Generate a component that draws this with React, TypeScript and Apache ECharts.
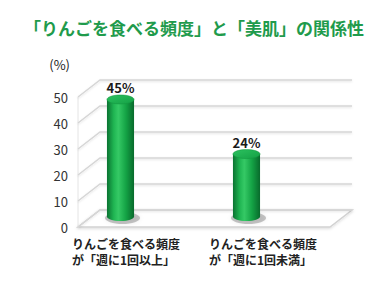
import React, { useEffect, useRef } from "react";
import * as echarts from "echarts";

const titleText = "「りんごを食べる頻度」と「美肌」の関係性";
const categories = ["りんごを食べる頻度\nが「週に1回以上」", "りんごを食べる頻度\nが「週に1回未満」"];
const values = [45, 24];
const yTicks = [0, 10, 20, 30, 40, 50];
const yUnit = "(%)";

const FONT = '"Noto Sans CJK JP", "Noto Sans", sans-serif';
const DX = 22;
const DY = 17;
const BAR_DEPTH = 0.62;

export default function App() {
  const ref = useRef<HTMLDivElement>(null);
  useEffect(() => {
    if (!ref.current) return;
    const chart = echarts.init(ref.current, null, { renderer: "svg" });
    const labelStyle = { width: 108, align: "left", fontSize: 12, fontWeight: "bold", color: "#222", fontFamily: FONT, lineHeight: 16 };
    const option: any = {
      animation: false,
      backgroundColor: "#ffffff",
      title: {
        text: titleText,
        left: "center",
        top: 14,
        textStyle: { color: "#1f9b4c", fontSize: 17, fontWeight: "bold", fontFamily: FONT },
      },
      grid: { left: 78, right: 58, top: 97, bottom: 61 },
      xAxis: {
        type: "category",
        data: categories,
        axisLine: { show: false },
        axisTick: { show: false },
        splitLine: { show: false },
        axisLabel: {
          interval: 0,
          margin: 8,
          formatter: (val: string, idx: number) => {
            const lines = val.split("\n");
            return lines.map((l) => `{c${idx}|${l}}`).join("\n");
          },
          rich: {
            c0: { ...labelStyle, padding: [0, 30, 0, 0] },
            c1: { ...labelStyle, padding: [0, 8, 0, 0] },
          },
        },
      },
      yAxis: {
        type: "value",
        min: 0,
        max: 50,
        interval: 10,
        name: yUnit,
        nameLocation: "end",
        nameGap: 26,
        nameTextStyle: { align: "right", padding: [0, 8, 0, 0], color: "#222", fontSize: 13, fontFamily: FONT },
        axisLine: { show: false },
        axisTick: { show: false },
        splitLine: { show: false },
        axisLabel: { color: "#333", fontSize: 13, fontFamily: FONT, margin: 10 },
      },
      series: [
        {
          type: "custom",
          z: 1,
          data: yTicks.map((t) => [0, t]),
          renderItem: (params: any, api: any) => {
            const cs = params.coordSys;
            const t = api.value(1);
            const y = api.coord([0, t])[1];
            const L = cs.x;
            const R = cs.x + cs.width;
            const children: any[] = [];
            if (t === 0) {
              children.push({
                type: "polygon",
                shape: { points: [[L, y], [R, y], [R + DX, y - DY], [L + DX, y - DY]] },
                style: { fill: "#ffffff", stroke: "#d2d2d2", lineWidth: 1.5, shadowBlur: 3, shadowColor: "rgba(0,0,0,0.15)", shadowOffsetY: 1 },
              });
              const yTop = api.coord([0, yTicks[yTicks.length - 1]])[1];
              children.push({
                type: "line",
                shape: { x1: L, y1: y, x2: L, y2: yTop },
                style: { stroke: "#e4e4e4", lineWidth: 1 },
              });
            }
            children.push({
              type: "polyline",
              shape: { points: [[L, y], [L + DX, y - DY], [R + DX, y - DY]] },
              style: { fill: "none", stroke: "#d6d6d6", lineWidth: 1.5, shadowBlur: 2, shadowColor: "rgba(0,0,0,0.12)", shadowOffsetY: 1 },
            });
            return { type: "group", children };
          },
        },
        {
          type: "custom",
          z: 5,
          data: values.map((v, i) => [i, v]),
          renderItem: (params: any, api: any) => {
            const i = api.value(0);
            const v = api.value(1);
            const p = api.coord([i, v]);
            const p0 = api.coord([i, 0]);
            const band = api.size([1, 0])[0];
            const cx = p[0] - band * 0.25 + DX / 2;
            const top = p[1] - DY * BAR_DEPTH;
            const bot = p0[1] - DY * BAR_DEPTH;
            const w = band * 0.215;
            const rx = w / 2;
            const ry = 4.5;
            const bodyGrad = {
              type: "linear",
              x: 0, y: 0, x2: 1, y2: 0,
              colorStops: [
                { offset: 0, color: "#0a7331" },
                { offset: 0.25, color: "#1fb552" },
                { offset: 0.42, color: "#35c965" },
                { offset: 0.7, color: "#14a345" },
                { offset: 1, color: "#086a2c" },
              ],
            };
            const topGrad = {
              type: "linear",
              x: 0, y: 0, x2: 1, y2: 1,
              colorStops: [
                { offset: 0, color: "#2cc25f" },
                { offset: 1, color: "#14a045" },
              ],
            };
            return {
              type: "group",
              children: [
                {
                  type: "ellipse",
                  shape: { cx: cx + 2, cy: bot + 1.5, rx: rx + 4, ry: ry + 1.5 },
                  style: { fill: "rgba(0,0,0,0.22)", shadowBlur: 4, shadowColor: "rgba(0,0,0,0.3)" },
                },
                {
                  type: "ellipse",
                  shape: { cx, cy: bot, rx, ry },
                  style: { fill: bodyGrad },
                },
                {
                  type: "rect",
                  shape: { x: cx - rx, y: top, width: w, height: bot - top },
                  style: { fill: bodyGrad },
                },
                {
                  type: "ellipse",
                  shape: { cx, cy: top, rx, ry },
                  style: { fill: topGrad, stroke: "#12953f", lineWidth: 0.5 },
                },
                {
                  type: "text",
                  style: {
                    text: `${v}%`,
                    x: cx,
                    y: top - ry - 1,
                    align: "center",
                    verticalAlign: "bottom",
                    fill: "#1a1a1a",
                    fontSize: 13,
                    fontWeight: "bold",
                    fontFamily: FONT,
                  },
                },
              ],
            };
          },
        },
      ],
    };
    chart.setOption(option);
    return () => chart.dispose();
  }, []);
  return <div ref={ref} style={{ position: "fixed", left: 0, top: 0, width: 388, height: 288 }} />;
}
